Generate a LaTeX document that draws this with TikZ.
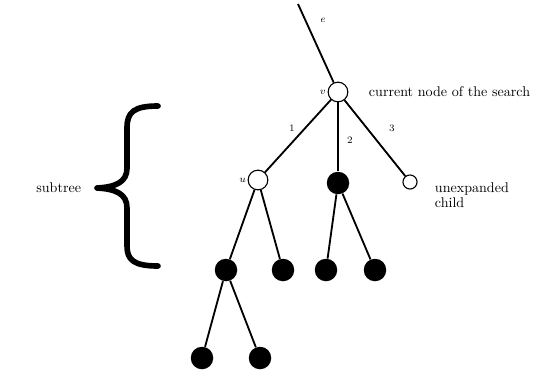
\documentclass[tikz,border=0pt]{standalone}
\usepackage{amsmath,amssymb}
\usetikzlibrary{arrows.meta,calc}

\begin{document}
\begin{tikzpicture}[x=0.025cm,y=-0.025cm,
    edge/.style={line width=1.3pt},
    open/.style={circle,draw,thick,fill=white,inner sep=0pt,minimum size=14pt},
    leaf/.style={circle,fill=black,inner sep=0pt,minimum size=16pt},
    lbl/.style={font=\scriptsize,inner sep=1pt}]
  \useasboundingbox (0,0) rectangle (560,376);
  % nodes of the tree
  \coordinate (top) at (298,4);
  \node[open] (r) at (338,92) {};
  \node[open] (a) at (258,180) {};
  \node[leaf] (b) at (338,183) {};
  \node[open,minimum size=10pt] (c) at (410,182) {};
  \node[leaf] (a1) at (226,270) {};
  \node[leaf] (a2) at (283,270) {};
  \node[leaf] (b1) at (326,270) {};
  \node[leaf] (b2) at (375,270) {};
  \node[leaf] (a11) at (202,358) {};
  \node[leaf] (a12) at (260,358) {};
  % edges
  \draw[edge] (top)--(r);
  \draw[edge] (r)--(a);  \draw[edge] (r)--(b);  \draw[edge] (r)--(c);
  \draw[edge] (a)--(a1); \draw[edge] (a)--(a2);
  \draw[edge] (b)--(b1); \draw[edge] (b)--(b2);
  \draw[edge] (a1)--(a11); \draw[edge] (a1)--(a12);
  % labels
  \node[lbl,left] (rl) at (r.west) {$v$};
  \node[lbl,left] (al) at (a.west) {$u$};
  \node[lbl] (e0) at (323,20) {$e$};
  \node[lbl] (e1) at (292,128) {$1$};
  \node[lbl] (e2) at (350,140) {$2$};
  \node[lbl] (e3) at (392,128) {$3$};
  \node[right] (rt) at (364,92) {current node of the search};
  \node[right,align=left] (ct) at (430,195) {unexpanded\\[-1pt] child};
  % brace
  \coordinate (bt0) at (158,106);
  \coordinate (btip) at (97,188);
  \coordinate (bt1) at (158,266);
  \draw[line width=4pt,line cap=round,line join=round]
     (bt0) .. controls (134,106) and (127,112) .. (127,128) -- (127,168)
     .. controls (127,182) and (116,187) .. (btip)
     .. controls (116,189) and (127,194) .. (127,208) -- (127,246)
     .. controls (127,260) and (134,266) .. (bt1);
  \node[left] (bt) at (86,188) {subtree};
\end{tikzpicture}
\end{document}
